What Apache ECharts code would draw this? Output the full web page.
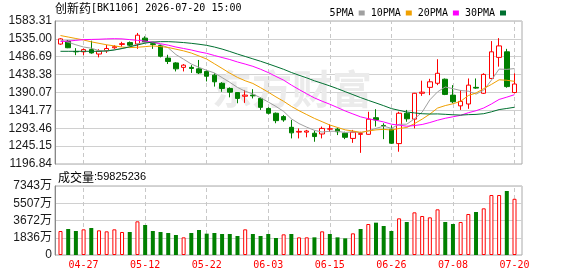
<!DOCTYPE html>
<html>
<head>
<meta charset="utf-8">
<title>创新药[BK1106]</title>
<script src="https://cdn.jsdelivr.net/npm/echarts@6/dist/echarts.min.js"></script>
<style>
  html, body { margin: 0; padding: 0; background: #fff; }
  #chart { width: 578px; height: 276px; }
</style>
</head>
<body>
<div id="chart"></div>
<script>
// trading days
var dates = [
  '04-22', '04-23', '04-24', '04-27', '04-28', '04-29', '04-30', '05-06', '05-07', '05-08',
  '05-11', '05-12', '05-13', '05-14', '05-15', '05-18', '05-19', '05-20', '05-21', '05-22',
  '05-25', '05-26', '05-27', '05-28', '05-29', '06-01', '06-02', '06-03', '06-04', '06-05',
  '06-08', '06-09', '06-10', '06-11', '06-12', '06-15', '06-16', '06-17', '06-18', '06-22',
  '06-23', '06-24', '06-25', '06-26', '06-29', '06-30', '07-01', '07-02', '07-03', '07-06',
  '07-07', '07-08', '07-09', '07-10', '07-13', '07-14', '07-15', '07-16', '07-17', '07-20'
];
// dates that carry a label and a dashed line
var markDates = ['04-27', '05-12', '05-22', '06-03', '06-15', '06-26', '07-08', '07-20'];

// [open, close, low, high]
var candles = [
  [1521, 1535, 1519, 1537], [1529, 1511, 1510, 1532], [1501, 1500, 1491, 1510], [1500, 1506, 1491, 1509],
  [1506, 1497, 1495, 1530], [1494, 1502, 1485, 1507], [1503, 1509, 1497, 1519], [1511, 1514, 1508, 1518],
  [1520, 1522, 1514, 1527], [1525, 1518, 1515, 1528], [1521, 1545, 1508, 1551], [1537, 1527, 1524, 1542],
  [1522, 1520, 1508, 1524], [1517, 1488, 1485, 1520], [1483, 1474, 1467, 1492], [1470, 1454, 1447, 1472],
  [1458, 1464, 1447, 1467], [1458, 1455, 1443, 1464], [1454, 1443, 1440, 1478], [1447, 1434, 1420, 1450],
  [1437, 1419, 1406, 1442], [1415, 1401, 1392, 1418], [1401, 1391, 1377, 1404], [1390, 1374, 1361, 1391],
  [1380, 1383, 1362, 1397], [1383, 1381, 1374, 1399], [1374, 1350, 1343, 1377], [1347, 1334, 1331, 1350],
  [1334, 1314, 1307, 1336], [1325, 1316, 1311, 1329], [1296, 1281, 1266, 1316], [1283, 1285, 1266, 1293],
  [1283, 1286, 1269, 1289], [1280, 1271, 1257, 1287], [1278, 1293, 1266, 1298], [1291, 1292, 1284, 1304],
  [1291, 1284, 1275, 1295], [1280, 1269, 1264, 1284], [1266, 1283, 1254, 1289], [1277, 1279, 1227, 1284],
  [1277, 1318, 1276, 1338], [1322, 1316, 1298, 1345], [1301, 1300, 1264, 1307], [1291, 1253, 1251, 1301],
  [1252, 1334, 1230, 1338], [1334, 1319, 1311, 1343], [1318, 1388, 1293, 1389], [1388, 1391, 1381, 1422],
  [1404, 1419, 1383, 1427], [1415, 1442, 1410, 1480], [1426, 1385, 1383, 1428], [1383, 1365, 1361, 1410],
  [1354, 1366, 1343, 1397], [1359, 1410, 1346, 1428], [1404, 1402, 1400, 1428], [1388, 1439, 1386, 1442],
  [1428, 1500, 1426, 1529], [1485, 1516, 1460, 1537], [1500, 1406, 1403, 1508], [1390, 1413, 1388, 1442]
];

var ma5 = [
  1532, 1526, 1519, 1513, 1509.8, 1503.2, 1502.8, 1505.6, 1508.8, 1513,
  1521.6, 1525.2, 1526.4, 1519.6, 1510.8, 1492.6, 1480, 1467, 1458, 1450,
  1443, 1430.4, 1417.6, 1403.8, 1393.6, 1386, 1375.8, 1364.4, 1352.4, 1339,
  1319, 1306, 1296.4, 1287.8, 1283.2, 1285.4, 1285.2, 1281.8, 1284.2, 1281.4,
  1286.6, 1293, 1299.2, 1293.2, 1304.2, 1304.4, 1318.8, 1337, 1370.2, 1391.8,
  1405, 1400.4, 1395.4, 1393.6, 1385.6, 1396.4, 1423.4, 1453.4, 1452.6, 1454.8
];
var ma10 = [
  1544, 1540, 1536, 1532, 1527, 1523, 1519, 1516, 1513, 1511.4,
  1512.4, 1514, 1516, 1514.2, 1511.9, 1507.1, 1502.6, 1496.7, 1488.8, 1480.4,
  1467.8, 1455.2, 1442.3, 1430.9, 1421.8, 1414.5, 1403.1, 1391, 1378.1, 1366.3,
  1352.5, 1340.9, 1330.4, 1320.1, 1311.1, 1302.2, 1295.6, 1289.1, 1286, 1282.3,
  1286, 1289.1, 1290.5, 1288.7, 1292.8, 1295.5, 1305.9, 1318.1, 1331.7, 1348,
  1354.7, 1359.6, 1366.2, 1381.9, 1388.7, 1400.7, 1411.9, 1424.4, 1423.1, 1420.2
];
var ma20 = [
  1528, 1529, 1531, 1533, 1533.5, 1534, 1535, 1535.5, 1535, 1533,
  1531, 1529, 1526, 1522, 1518, 1513, 1509, 1505, 1500, 1495.9,
  1490.1, 1484.6, 1479.2, 1472.6, 1466.9, 1460.8, 1452.9, 1443.9, 1433.5, 1423.4,
  1410.2, 1398.1, 1386.4, 1375.5, 1366.5, 1358.4, 1349.4, 1340.1, 1332.1, 1324.3,
  1319.3, 1315, 1310.5, 1304.4, 1301.9, 1298.9, 1300.8, 1303.6, 1308.9, 1315.2,
  1320.4, 1324.4, 1328.4, 1335.4, 1340.8, 1348.2, 1359, 1371.3, 1377.5, 1384.2
];
var ma30 = [
  1501.4, 1501.4, 1501.4, 1501.4, 1501.4, 1501.4, 1502.2, 1505, 1509, 1513.6,
  1518.4, 1523.5, 1526.5, 1527.5, 1527.5, 1526.5, 1525, 1523, 1520.5, 1517.5,
  1513, 1507.5, 1501, 1494, 1487.5, 1481, 1474.5, 1467.5, 1460.2, 1452.7,
  1444.2, 1436.7, 1429.6, 1421.7, 1414.9, 1407.9, 1400.4, 1392.3, 1384.3, 1376.3,
  1368.8, 1361.7, 1354.4, 1346.6, 1341.9, 1337.4, 1334.9, 1332.7, 1331.9, 1332.2,
  1331.1, 1329.9, 1329, 1330.2, 1330.9, 1332.8, 1337.8, 1343.9, 1346.9, 1350.2
];

// volume, in 万
var volumes = [
  2554, 2767, 2554, 2731, 2873, 2625, 2519, 2731, 2448, 2448,
  3583, 3193, 2554, 2448, 2341, 2128, 1880, 2341, 2660, 2270,
  2341, 2235, 2235, 2022, 2731, 2235, 2022, 2235, 1809, 2199,
  2235, 1880, 1880, 1880, 2519, 2235, 1880, 1774, 2306, 2767,
  3299, 3441, 3087, 2554, 3902, 3512, 4541, 4151, 4009, 4860,
  3512, 3299, 3512, 4364, 4576, 4966, 6385, 6385, 6811, 5982.5
];

var priceTicks = ['1196.84', '1245.15', '1293.46', '1341.77', '1390.07', '1438.38', '1486.69', '1535.00', '1583.31'];
var volTicks = ['0', '1836万', '3672万', '5507万', '7343万'];
var volMax = 7343;

var UP = '#ff0000';
var DOWN = '#008000';
var yMin = parseFloat(priceTicks[0]);
var yMax = parseFloat(priceTicks[priceTicks.length - 1]);
var yStep = (yMax - yMin) / (priceTicks.length - 1);
var vStep = volMax / (volTicks.length - 1);

var chart = echarts.init(document.getElementById('chart'));

// volume colour follows close vs previous close
var volData = volumes.map(function (v, i) {
  var up = i === 0 ? candles[i][1] >= candles[i][0] : candles[i][1] >= candles[i - 1][1];
  return {
    value: v,
    itemStyle: up
      ? { color: '#fff', borderColor: UP, borderWidth: 1 }
      : { color: DOWN, borderColor: DOWN, borderWidth: 0 }
  };
});

function dashLines() {
  return {
    silent: true,
    symbol: ['none', 'none'],
    z: 1,
    animation: false,
    label: { show: false },
    lineStyle: { color: '#c8c8c8', type: [4, 3], width: 1 },
    data: markDates.map(function (d) { return { xAxis: d }; })
  };
}

function maLine(name, data, color) {
  return {
    name: name,
    type: 'line',
    xAxisIndex: 1,
    yAxisIndex: 1,
    data: data,
    symbol: 'none',
    z: 3,
    silent: true,
    lineStyle: { width: 1, color: color },
    itemStyle: { color: color }
  };
}

var monoFont = 'DejaVu Sans Mono';
var sansFont = 'Liberation Sans, Noto Sans CJK SC';

var option = {
  animation: false,
  backgroundColor: '#fff',
  legend: {
    data: ['5PMA', '10PMA', '20PMA', '30PMA'],
    right: 67,
    top: 3,
    align: 'right',
    icon: 'rect',
    itemWidth: 6,
    itemHeight: 5,
    itemGap: 6,
    selectedMode: false,
    textStyle: { fontFamily: monoFont, fontSize: 10, color: '#000' }
  },
  graphic: [
    {
      type: 'text',
      x: 55,
      y: 8,
      style: {
        text: '{c|创新药}{a|[BK1106] 2026-07-20 15:00}',
        verticalAlign: 'middle',
        rich: {
          c: { fontFamily: 'Noto Sans CJK SC', fontSize: 12, fill: '#000' },
          a: { fontFamily: monoFont, fontSize: 10, fill: '#000' }
        }
      }
    },
    {
      type: 'text',
      x: 58,
      y: 177,
      style: {
        text: '{c|成交量}{a|:59825236}',
        verticalAlign: 'middle',
        rich: {
          c: { fontFamily: 'Noto Sans CJK SC', fontSize: 12, fill: '#000' },
          a: { fontFamily: 'Liberation Sans', fontSize: 11, fill: '#000' }
        }
      }
    },
    {
      type: 'text',
      x: 212,
      y: 89,
      z: 1,
      silent: true,
      style: {
        text: '东方财富',
        verticalAlign: 'middle',
        fontFamily: 'Noto Sans CJK SC',
        fontWeight: 'bold',
        fontSize: 40,
        fill: '#ebebeb'
      }
    }
  ],
  grid: [
    { left: 55, top: 21, width: 467, height: 143, show: true, borderColor: '#aaa', borderWidth: 1 },
    { left: 56.65, top: 21, width: 461.7, height: 143 },
    { left: 55, top: 186, width: 467, height: 69, show: true, borderColor: '#aaa', borderWidth: 1 },
    { left: 56.65, top: 186, width: 461.7, height: 69 }
  ],
  xAxis: [
    { gridIndex: 0, type: 'value', min: 0, max: 1, show: false },
    {
      gridIndex: 1, type: 'category', data: dates, boundaryGap: true,
      axisLine: { show: false }, axisTick: { show: false }, axisLabel: { show: false }, splitLine: { show: false }
    },
    { gridIndex: 2, type: 'value', min: 0, max: 1, show: false },
    {
      gridIndex: 3, type: 'category', data: dates, boundaryGap: true,
      axisLine: { show: false }, axisTick: { show: false }, splitLine: { show: false },
      axisLabel: {
        interval: function (i, v) { return markDates.indexOf(v) >= 0; },
        color: UP,
        fontFamily: monoFont,
        fontSize: 10,
        margin: 5
      }
    }
  ],
  yAxis: [
    {
      gridIndex: 0, type: 'value', min: yMin, max: yMax, interval: yStep,
      axisLine: { show: true, lineStyle: { color: '#888' } },
      axisTick: { show: false },
      splitLine: { show: true, lineStyle: { color: '#d0d0d0', width: 1 } },
      axisLabel: {
        formatter: function (v) { return priceTicks[Math.round((v - yMin) / yStep)]; },
        color: '#1a1a1a', fontFamily: sansFont, fontSize: 12, margin: 3
      }
    },
    { gridIndex: 1, type: 'value', min: yMin, max: yMax, show: false },
    {
      gridIndex: 2, type: 'value', min: 0, max: volMax, interval: vStep,
      axisLine: { show: true, lineStyle: { color: '#888' } },
      axisTick: { show: false },
      splitLine: { show: true, lineStyle: { color: '#d0d0d0', width: 1 } },
      axisLabel: {
        formatter: function (v) { return volTicks[Math.round(v / vStep)]; },
        color: '#1a1a1a', fontFamily: sansFont, fontSize: 12, margin: 3
      }
    },
    { gridIndex: 3, type: 'value', min: 0, max: volMax, show: false }
  ],
  series: [
    {
      name: '创新药',
      type: 'candlestick',
      xAxisIndex: 1,
      yAxisIndex: 1,
      data: candles,
      barWidth: 5,
      silent: true,
      itemStyle: {
        color: '#fff',
        color0: DOWN,
        borderColor: UP,
        borderColor0: DOWN,
        borderWidth: 1
      },
      markLine: dashLines()
    },
    maLine('5PMA', ma5, '#a0a0a0'),
    maLine('10PMA', ma10, '#f0a000'),
    maLine('20PMA', ma20, '#ff00ff'),
    maLine('30PMA', ma30, '#007030'),
    {
      name: '成交量',
      type: 'bar',
      xAxisIndex: 3,
      yAxisIndex: 3,
      data: volData,
      barWidth: 4,
      silent: true,
      markLine: dashLines()
    }
  ]
};

chart.setOption(option);
</script>
</body>
</html>
